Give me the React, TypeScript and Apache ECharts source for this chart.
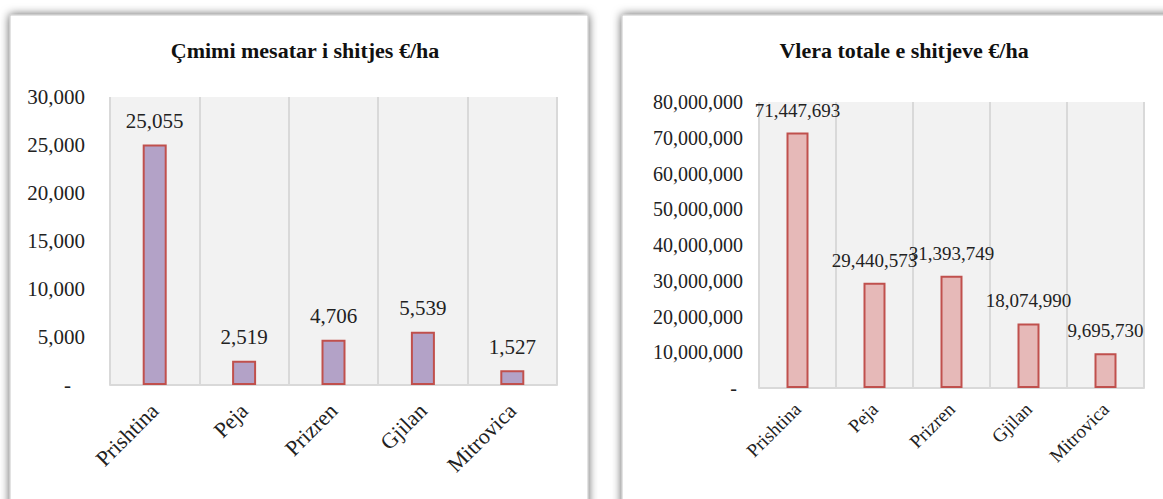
import React, { useEffect, useRef } from "react";
import * as echarts from "echarts";

const categories = ["Prishtina", "Peja", "Prizren", "Gjilan", "Mitrovica"];
const avgPrice = [25055, 2519, 4706, 5539, 1527];
const totalValue = [71447693, 29440573, 31393749, 18074990, 9695730];
const title1 = "Çmimi mesatar i shitjes €/ha";
const title2 = "Vlera totale e shitjeve €/ha";

const FONT = "'Liberation Serif', 'DejaVu Serif', serif";
const fmt = (v: number) => Math.round(v).toLocaleString("en-US");

export default function App() {
  const ref = useRef<HTMLDivElement>(null);
  useEffect(() => {
    document.body.style.margin = "0";
    const chart = echarts.init(ref.current!, null, { renderer: "svg" });
    const yLabel = (fs: number, pad: number, margin: number) => ({
      margin,
      fontFamily: FONT,
      fontSize: fs,
      color: "#222",
      formatter: (v: number) => (v === 0 ? "{d|-}" : "{n|" + fmt(v) + "}"),
      rich: {
        d: { fontFamily: FONT, fontSize: fs, color: "#222", padding: [0, pad, 0, 0] },
        n: { fontFamily: FONT, fontSize: fs, color: "#222" },
      },
    });
    chart.setOption({
      animation: false,
      textStyle: { fontFamily: FONT },
      graphic: [
        {
          type: "rect",
          shape: { x: 10, y: 15, width: 578, height: 510 },
          style: { fill: "#fff", stroke: "#c8c8c8", lineWidth: 1, shadowBlur: 10, shadowColor: "rgba(0,0,0,0.65)" },
          z: -10,
        },
        {
          type: "rect",
          shape: { x: 622, y: 15, width: 560, height: 510 },
          style: { fill: "#fff", stroke: "#c8c8c8", lineWidth: 1, shadowBlur: 10, shadowColor: "rgba(0,0,0,0.65)" },
          z: -10,
        },
      ],
      title: [
        {
          text: title1,
          left: 300,
          top: 34,
          textAlign: "center",
          textStyle: { fontFamily: FONT, fontWeight: "bold", fontSize: 22, color: "#111" },
        },
        {
          text: title2,
          left: 899,
          top: 34,
          textAlign: "center",
          textStyle: { fontFamily: FONT, fontWeight: "bold", fontSize: 22, color: "#111" },
        },
      ],
      grid: [
        { left: 110, top: 97, width: 447, height: 288, show: true, backgroundColor: "#f2f2f2", borderWidth: 0 },
        { left: 759, top: 102, width: 385, height: 286, show: true, backgroundColor: "#f2f2f2", borderWidth: 0 },
      ],
      xAxis: [
        {
          type: "category",
          gridIndex: 0,
          data: categories,
          axisLine: { lineStyle: { color: "#d9d9d9", width: 2 } },
          axisTick: { show: false },
          splitLine: { show: true, lineStyle: { color: "#d9d9d9", width: 2 } },
          axisLabel: { rotate: 45, margin: 22, fontFamily: FONT, fontSize: 22, color: "#222", interval: 0 },
        },
        {
          type: "category",
          gridIndex: 1,
          data: categories,
          axisLine: { lineStyle: { color: "#d9d9d9", width: 2 } },
          axisTick: { show: false },
          splitLine: { show: true, lineStyle: { color: "#d9d9d9", width: 2 } },
          axisLabel: { rotate: 45, margin: 18, fontFamily: FONT, fontSize: 19, color: "#222", interval: 0 },
        },
      ],
      yAxis: [
        {
          type: "value",
          gridIndex: 0,
          min: 0,
          max: 30000,
          interval: 5000,
          axisLine: { show: false },
          axisTick: { show: false },
          splitLine: { show: false },
          axisLabel: yLabel(21, 14, 25),
        },
        {
          type: "value",
          gridIndex: 1,
          min: 0,
          max: 80000000,
          interval: 10000000,
          axisLine: { show: false },
          axisTick: { show: false },
          splitLine: { show: false },
          axisLabel: yLabel(20, 6, 16),
        },
      ],
      series: [
        {
          type: "bar",
          xAxisIndex: 0,
          yAxisIndex: 0,
          data: avgPrice,
          barWidth: 24,
          itemStyle: { color: "#b3a2c7", borderColor: "#c0504d", borderWidth: 2 },
          label: { show: true, position: "top", distance: 13, fontFamily: FONT, fontSize: 21, color: "#222", formatter: (p: any) => fmt(p.value) },
        },
        {
          type: "bar",
          xAxisIndex: 1,
          yAxisIndex: 1,
          data: totalValue,
          barWidth: 22,
          itemStyle: { color: "#e6b9b8", borderColor: "#c0504d", borderWidth: 2 },
          label: { show: true, position: "top", distance: 13, fontFamily: FONT, fontSize: 19, color: "#222", formatter: (p: any) => fmt(p.value) },
        },
      ],
    });
    return () => chart.dispose();
  }, []);
  return <div ref={ref} style={{ position: "absolute", left: 0, top: 0, width: 1163, height: 499 }} />;
}
